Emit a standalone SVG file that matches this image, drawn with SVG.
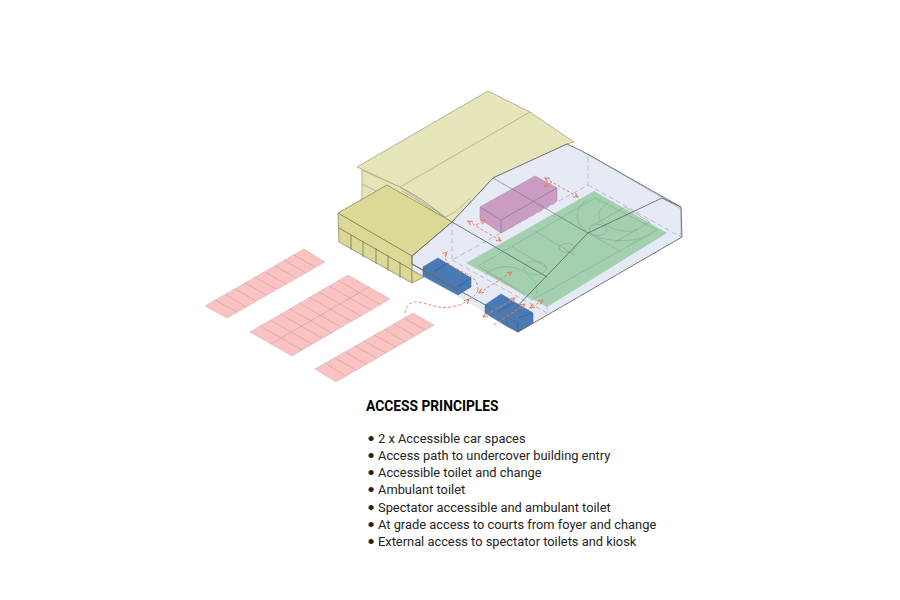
<svg xmlns="http://www.w3.org/2000/svg" width="900" height="600" viewBox="0 0 900 600">
<defs>
<marker id="ah" viewBox="0 0 8 8" refX="7" refY="4" markerWidth="6" markerHeight="6" orient="auto-start-reverse" markerUnits="userSpaceOnUse"><path d="M1 1L7 4L1 7" fill="none" stroke="#e97a66" stroke-width="1.3"/></marker>
</defs>
<style>
.t{font-family:"Roboto","Liberation Sans",sans-serif;font-size:12.85px;fill:#222}
.b{font-family:"Lato","Liberation Sans",sans-serif;font-size:14px}
.h{font-family:"Roboto","Liberation Sans",sans-serif;font-size:13.8px;font-weight:700;fill:#000}
.pk{fill:#fcc2c2;stroke:#c9b8b8;stroke-width:.6}
.pl{stroke:#c4a8a8;stroke-width:.7;fill:none}
.y1{fill:#e6e5b9;stroke:#a5a586;stroke-width:.8;stroke-linejoin:round}
.y2{fill:#dcd997;stroke:#8c8b62;stroke-width:.8;stroke-linejoin:round}
.bl{fill:#4a7ab5;stroke:#3e6696;stroke-width:.5}
.bline{stroke:#34577f;stroke-width:.6;fill:none}
.pu{fill:#cb9cc3;stroke:#a585a1;stroke-width:.5}
.pline{stroke:#8a6a88;stroke-width:.6;fill:none}
.dash{stroke:#b5b8c0;stroke-width:.9;stroke-dasharray:5 3;fill:none}
.ct{stroke:#84a98e;stroke-width:.6;fill:none}
.sec{stroke:#66696d;stroke-width:.9;fill:none}
.ar{stroke:#e97a66;stroke-width:.9;stroke-dasharray:3 2;fill:none;marker-end:url(#ah)}
.ar2{stroke:#e97a66;stroke-width:.9;stroke-dasharray:3 2;fill:none;marker-end:url(#ah);marker-start:url(#ah)}
</style>
<rect width="900" height="600" fill="#fff"/>
<g id="parking-a">
<polygon class="pk" points="205,306 304,249 325,262 227,318"/>
<path class="pl" d="M215,300L237,312M225,294L246,307M235,289L256,301M245,283L266,295M255,277L276,289M265,272L286,284M275,266L296,278M284,260L306,273M294,255L315,267"/>
</g>
<g id="parking-b">
<polygon class="pk" points="250,332 348,275 390,299 292,356"/>
<path class="pl" d="M271,344L369,287M260,326L302,350M270,320L312,344M280,314L322,338M290,309L332,333M299,303L341,327M309,297L351,321M319,292L361,316M329,286L371,310M339,281L381,305"/>
</g>
<g id="parking-c">
<polygon class="pk" points="315,369 413,313 434,325 336,382"/>
<path class="pl" d="M325,363L346,376M335,358L356,370M345,352L366,364M355,346L376,358M364,341L386,353M374,335L396,347M384,329L405,342M394,324L415,336M404,318L425,330"/>
</g>
<g id="main-hall">
<polygon class="y1" points="362,170 400,187 445,217 387,192 362,205"/>
<path d="M362,184L390,198M362,198L375,205" stroke="#a5a586" stroke-width=".7" fill="none"/>
<polygon class="y1" points="357,167 488,91 530,112 574,142 567,144 493,178 452,222 445,217 422,200 400,187"/>
<path d="M400,187L530,112M400,187C420,197 432,207 445,217C458,212 462,205 470,198M402,191C418,200 430,208 442,218" stroke="#a5a586" stroke-width=".7" fill="none"/>
</g>
<g id="glass-volume">
<polygon points="412,256 452,222 493,178 567,144 582,151 681,207 682,237 518,332 412,270" fill="#e6eaf5"/>
</g>
<g id="court">
<polygon points="466,263 594,191 667,233 547,307" fill="#a3d1b0"/>
<path class="ct" d="M478,266L595,198L657,230L532,300ZM485,270L528,295M512,247L548,268M535,231L575,255M560,217L620,251M590,227L625,207L650,222L615,242"/>
<ellipse class="ct" cx="567" cy="248" rx="8" ry="4.5"/>
<ellipse class="ct" cx="535" cy="268" rx="11" ry="7"/>
<ellipse class="ct" cx="598" cy="230" rx="9" ry="5.5"/>
<path class="ct" d="M485,275C495,265 515,263 528,275C538,284 540,292 533,298M587,200C572,210 575,228 593,235C610,243 635,242 650,235M610,202C595,208 595,222 610,227C620,232 630,232 637,230"/>
</g>
<g id="glass-frame">
<path class="dash" d="M452,222V260L588,185V155M588,185L681,237M452,260L547,313V277"/>
<path d="M588,154L681,209V237" stroke="#b5b8c0" stroke-width=".9" fill="none"/>
</g>
<g id="pink-kiosk">
<polygon class="pu" points="480,207 535,176 557,188 557,201 501,233 480,219"/>
<path class="pline" d="M480,207L501,220L557,188M501,220V233"/>
</g>
<g id="toilet-a">
<polygon class="bl" points="423,267 438,258 471,278 471,287 458,295 423,276"/>
<path class="bline" d="M433,272L448,263M458,287L471,278"/>
</g>
<g id="toilet-b">
<polygon class="bl" points="485,305 501,294 533,313 533,323 518,332 508,327 485,313"/>
<path class="bline" d="M497,312L513,303M518,323V332M518,318L533,313"/>
</g>
<g id="front-wing">
<polygon class="y2" points="338,213 387,185 452,222 412,256 412,283 339,242"/>
<path d="M338,213L412,256M339,228L412,270M351,235V250M363,241V257M376,248V264M388,255V271M400,262V278" stroke="#74734f" stroke-width=".8" fill="none"/>
<polygon class="y2" points="412,270 424,277 412,283"/>
</g>
<g id="connectors">
<path class="sec" d="M412,256L452,222L493,178L567,144L582,151L681,207L682,237L518,332M412,256V264L507,317M412,264L458,290M452,222L547,277M662,198L588,233L507,317V325L518,332M507,317L518,323M662,198L681,207"/>
<path d="M493,178L588,233" stroke="#7b7e88" stroke-width=".7" fill="none"/>
<path class="ar2" d="M545,178L578,197"/>
<path class="ar" d="M552,182L544,187"/>
<path class="ar2" d="M468,221L501,241"/>
<path class="ar" d="M476,225L485,220"/>
<path class="ar2" d="M479,293L512,272"/>
<path class="ar" d="M478,290C478,276 468,276 452,266C444,261 444,255 447,252"/>
<path class="ar" d="M405,313C405,306 411,301 418,302C430,304 440,309 450,307C458,306 464,304 469,299"/>
<path d="M469,299C474,297 477,294 478,290" stroke="#e97a66" stroke-width=".9" stroke-dasharray="3 2" fill="none"/>
<path class="ar2" d="M515,298L483,317"/>
<path class="ar" d="M494,325L525,304"/>
<path class="ar2" d="M543,300L530,308"/>
</g>
<g id="caption">
<text class="h" x="366" y="411">ACCESS PRINCIPLES</text>
<text class="t" y="443"><tspan class="b" x="367">•</tspan><tspan x="378">2 x Accessible car spaces</tspan></text>
<text class="t" y="460"><tspan class="b" x="367">•</tspan><tspan x="378">Access path to undercover building entry</tspan></text>
<text class="t" y="477"><tspan class="b" x="367">•</tspan><tspan x="378">Accessible toilet and change</tspan></text>
<text class="t" y="494"><tspan class="b" x="367">•</tspan><tspan x="378">Ambulant toilet</tspan></text>
<text class="t" y="512"><tspan class="b" x="367">•</tspan><tspan x="378">Spectator accessible and ambulant toilet</tspan></text>
<text class="t" y="529"><tspan class="b" x="367">•</tspan><tspan x="378">At grade access to courts from foyer and change</tspan></text>
<text class="t" y="546"><tspan class="b" x="367">•</tspan><tspan x="378">External access to spectator toilets and kiosk</tspan></text>
</g>
</svg>
